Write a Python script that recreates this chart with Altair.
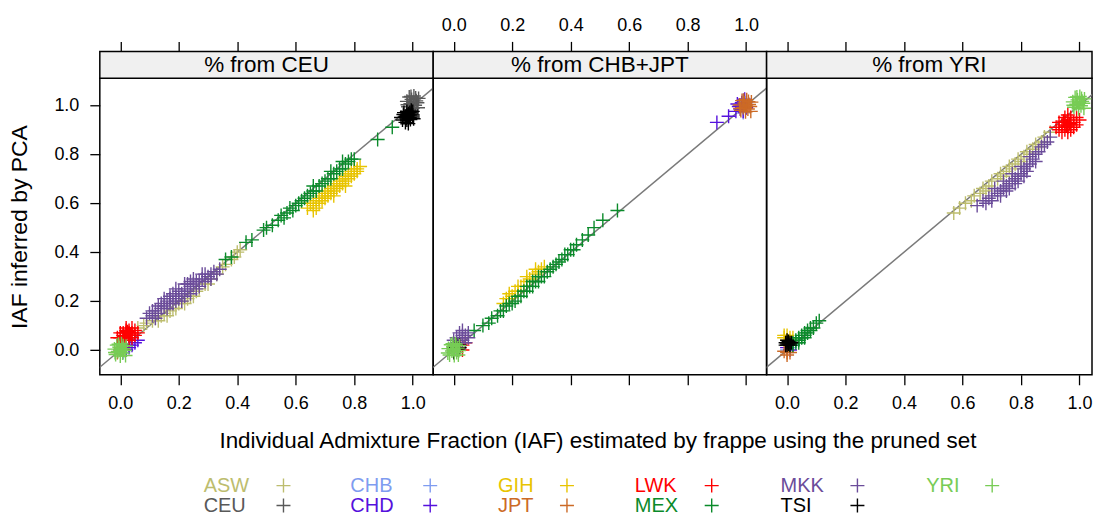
import altair as alt
import pandas as pd

FONT = "Liberation Sans"

GROUPS = ["ASW", "CEU", "CHB", "CHD", "GIH", "JPT", "LWK", "MEX", "MKK", "TSI", "YRI"]
COLORS = ["#BDBD6E", "#595959", "#7F9CF0", "#5511DD", "#E8C400", "#CC6A26",
          "#FF0000", "#0A8A2A", "#6B4C9A", "#000000", "#77CC55"]
PANEL_TITLES = ["% from CEU", "% from CHB+JPT", "% from YRI"]
TICKS = [0.0, 0.2, 0.4, 0.6, 0.8, 1.0]
X_TITLE = "Individual Admixture Fraction (IAF) estimated by frappe using the pruned set"
Y_TITLE = "IAF inferred by PCA"

# ---------------- panel 1: % from CEU ----------------
P1_ASW = [(0.06, 0.09), (0.08, 0.10), (0.09, 0.11), (0.11, 0.12), (0.12, 0.13), (0.13, 0.12),
          (0.14, 0.14), (0.15, 0.15), (0.17, 0.16), (0.18, 0.17), (0.19, 0.17), (0.20, 0.19),
          (0.21, 0.20), (0.22, 0.19), (0.23, 0.21), (0.24, 0.22), (0.26, 0.24), (0.27, 0.25),
          (0.29, 0.27), (0.31, 0.29), (0.33, 0.31), (0.35, 0.34), (0.36, 0.35), (0.38, 0.37),
          (0.39, 0.38), (0.40, 0.40), (0.41, 0.41), (0.16, 0.14), (0.25, 0.22), (0.30, 0.27)]
P1_CEU = [(0.980, 1.016), (0.984, 0.994), (0.988, 1.034), (0.992, 1.006), (0.996, 1.024),
          (1.000, 0.988), (1.004, 1.038), (1.008, 1.000), (1.012, 1.018), (1.016, 1.010),
          (1.020, 1.028), (0.982, 1.002), (1.002, 1.012), (1.018, 0.990), (0.994, 1.036),
          (1.010, 1.030)]
P1_CHB = [(0.00, 0.00), (0.01, 0.01), (0.02, 0.00), (0.01, -0.01)]
P1_CHD = [(0.02, 0.00), (0.03, 0.01), (0.04, 0.02), (0.05, 0.03), (0.06, 0.04), (0.03, 0.02)]
P1_GIH = [(0.64, 0.58), (0.65, 0.60), (0.66, 0.59), (0.67, 0.61), (0.68, 0.60), (0.68, 0.62),
          (0.69, 0.63), (0.70, 0.62), (0.70, 0.64), (0.71, 0.65), (0.72, 0.64), (0.72, 0.66),
          (0.73, 0.67), (0.74, 0.66), (0.74, 0.68), (0.75, 0.69), (0.76, 0.68), (0.76, 0.70),
          (0.77, 0.71), (0.78, 0.70), (0.78, 0.72), (0.79, 0.73), (0.80, 0.72), (0.80, 0.74),
          (0.81, 0.74), (0.82, 0.75), (0.66, 0.57), (0.69, 0.61), (0.73, 0.65), (0.77, 0.69),
          (0.71, 0.63), (0.75, 0.67), (0.79, 0.71), (0.67, 0.58), (0.81, 0.73), (0.77, 0.67),
          (0.73, 0.63)]
P1_JPT = [(0.00, 0.00), (0.01, 0.00), (0.00, 0.01), (-0.01, -0.01)]
P1_LWK = [(0.00, 0.05), (0.01, 0.06), (0.02, 0.07), (0.03, 0.06), (0.02, 0.05), (0.04, 0.07),
          (0.03, 0.08), (0.01, 0.04), (0.00, 0.07), (0.02, 0.08), (0.04, 0.05), (0.05, 0.06),
          (0.03, 0.04), (0.01, 0.07), (0.02, 0.09), (0.05, 0.08), (-0.01, 0.05), (0.03, 0.07),
          (0.04, 0.09), (0.06, 0.07), (0.015, 0.055), (0.035, 0.065), (0.025, 0.075)]
P1_MEX = [(0.36, 0.37), (0.38, 0.38), (0.43, 0.44), (0.45, 0.45), (0.49, 0.49), (0.50, 0.50),
          (0.52, 0.51), (0.54, 0.53), (0.55, 0.55), (0.56, 0.54), (0.57, 0.56), (0.58, 0.58),
          (0.59, 0.57), (0.60, 0.59), (0.61, 0.60), (0.62, 0.61), (0.63, 0.62), (0.64, 0.63),
          (0.65, 0.64), (0.66, 0.65), (0.67, 0.65), (0.68, 0.67), (0.69, 0.68), (0.70, 0.69),
          (0.71, 0.70), (0.72, 0.70), (0.73, 0.72), (0.74, 0.73), (0.75, 0.74), (0.76, 0.74),
          (0.77, 0.76), (0.78, 0.77), (0.79, 0.78), (0.80, 0.78), (0.88, 0.86), (0.93, 0.91),
          (0.66, 0.67), (0.72, 0.73), (0.76, 0.77)]
P1_MKK = [(0.09, 0.13), (0.10, 0.15), (0.11, 0.14), (0.12, 0.16), (0.13, 0.15), (0.14, 0.17),
          (0.14, 0.19), (0.15, 0.18), (0.16, 0.20), (0.16, 0.17), (0.17, 0.21), (0.18, 0.19),
          (0.18, 0.23), (0.19, 0.22), (0.20, 0.21), (0.20, 0.24), (0.21, 0.23), (0.22, 0.25),
          (0.22, 0.22), (0.23, 0.24), (0.24, 0.26), (0.24, 0.23), (0.25, 0.27), (0.26, 0.25),
          (0.27, 0.28), (0.27, 0.26), (0.28, 0.29), (0.29, 0.28), (0.30, 0.30), (0.31, 0.29),
          (0.31, 0.31), (0.32, 0.32), (0.33, 0.31), (0.34, 0.33), (0.12, 0.13), (0.17, 0.19),
          (0.21, 0.20), (0.19, 0.20), (0.23, 0.27), (0.26, 0.28), (0.15, 0.21), (0.13, 0.18),
          (0.19, 0.25), (0.25, 0.29), (0.29, 0.31), (0.11, 0.16), (0.22, 0.27), (0.28, 0.31),
          (0.17, 0.22), (0.24, 0.28)]
P1_TSI = [(0.970, 0.950), (0.980, 0.960), (0.990, 0.970), (0.980, 0.940), (0.970, 0.970),
          (0.990, 0.950), (1.000, 0.960), (0.980, 0.975), (0.975, 0.930), (0.995, 0.980),
          (1.000, 0.975), (0.960, 0.950), (0.985, 0.965), (0.975, 0.955), (0.995, 0.965),
          (0.985, 0.925), (0.965, 0.940), (1.003, 0.945), (0.990, 0.960), (0.978, 0.948),
          (0.968, 0.962), (0.992, 0.942), (1.000, 0.952), (0.983, 0.957), (0.996, 0.972)]
P1_YRI = [(-0.020, 0.004), (-0.016, -0.018), (-0.012, 0.020), (-0.008, -0.006), (-0.004, 0.012),
          (0.000, -0.024), (0.004, 0.026), (0.008, -0.012), (0.012, 0.006), (0.016, -0.002),
          (0.020, 0.016), (-0.018, -0.010), (0.002, 0.000), (0.018, -0.022), (-0.006, 0.024),
          (0.010, 0.018)]

# ---------------- panel 2: % from CHB+JPT ----------------
P2_ASW = [(0.00, 0.00), (0.01, 0.01), (0.00, 0.02)]
P2_CEU = [(0.00, 0.00), (0.01, 0.00)]
P2_CHB = [(0.99, 0.97), (1.00, 0.99), (0.98, 1.00), (1.00, 1.01), (0.99, 1.02)]
P2_CHD = [(0.90, 0.93), (0.94, 0.955), (0.965, 0.975), (0.975, 0.995), (0.985, 1.01),
          (0.98, 0.985), (0.99, 0.975), (0.97, 1.005), (1.00, 0.99), (0.995, 1.025)]
P2_GIH = [(0.17, 0.19), (0.18, 0.21), (0.19, 0.21), (0.20, 0.22), (0.21, 0.24), (0.22, 0.24),
          (0.23, 0.26), (0.24, 0.26), (0.25, 0.28), (0.26, 0.29), (0.27, 0.30), (0.28, 0.31),
          (0.29, 0.32), (0.30, 0.33), (0.31, 0.34), (0.19, 0.23), (0.22, 0.26), (0.25, 0.30),
          (0.28, 0.33)]
P2_JPT = [(0.978, 1.001), (0.982, 0.979), (0.986, 1.019), (0.990, 0.991), (0.994, 1.009),
          (0.998, 0.973), (1.002, 1.023), (1.006, 0.985), (1.010, 1.003), (1.014, 0.995),
          (1.018, 1.013), (0.980, 0.987), (1.000, 0.997), (1.016, 0.975), (0.992, 1.021),
          (1.008, 1.015)]
P2_LWK = [(0.02, 0.02), (0.03, 0.02), (0.04, 0.03), (0.02, 0.01), (0.03, 0.00)]
P2_MEX = [(0.07, 0.08), (0.10, 0.10), (0.12, 0.11), (0.13, 0.13), (0.15, 0.14), (0.16, 0.16),
          (0.17, 0.16), (0.18, 0.18), (0.19, 0.19), (0.20, 0.19), (0.21, 0.20), (0.22, 0.22),
          (0.23, 0.22), (0.24, 0.24), (0.25, 0.24), (0.26, 0.26), (0.27, 0.26), (0.28, 0.28),
          (0.29, 0.28), (0.30, 0.30), (0.31, 0.30), (0.32, 0.32), (0.33, 0.33), (0.34, 0.34),
          (0.35, 0.35), (0.36, 0.36), (0.37, 0.37), (0.38, 0.39), (0.39, 0.39), (0.40, 0.41),
          (0.41, 0.41), (0.42, 0.43), (0.44, 0.45), (0.46, 0.47), (0.48, 0.50), (0.51, 0.53),
          (0.56, 0.57), (0.25, 0.26), (0.29, 0.30), (0.27, 0.28)]
P2_MKK = [(0.01, 0.03), (0.02, 0.05), (0.03, 0.04), (0.02, 0.07), (0.04, 0.06), (0.03, 0.06),
          (0.05, 0.05), (0.01, 0.05), (0.04, 0.03), (0.00, 0.04), (0.03, 0.08), (0.05, 0.07)]
P2_TSI = [(0.01, 0.00), (0.00, 0.01), (0.02, 0.01), (0.01, 0.02), (0.00, -0.01), (0.015, 0.005),
          (0.02, 0.02)]
P2_YRI = [(-0.018, 0.006), (-0.014, -0.020), (-0.010, 0.022), (-0.006, -0.004), (-0.002, 0.014),
          (0.002, -0.022), (0.006, 0.026), (0.010, -0.010), (0.014, 0.008), (0.018, -0.002),
          (0.020, 0.018), (-0.020, -0.012), (0.000, 0.002), (0.016, -0.020), (-0.004, 0.026),
          (0.008, 0.020)]

# ---------------- panel 3: % from YRI ----------------
P3_ASW = [(0.57, 0.56), (0.59, 0.58), (0.61, 0.60), (0.63, 0.61), (0.64, 0.63), (0.66, 0.64),
          (0.67, 0.66), (0.68, 0.65), (0.69, 0.67), (0.70, 0.69), (0.72, 0.70), (0.73, 0.72),
          (0.74, 0.71), (0.75, 0.73), (0.76, 0.75), (0.77, 0.74), (0.78, 0.76), (0.79, 0.78),
          (0.80, 0.77), (0.81, 0.79), (0.82, 0.81), (0.83, 0.80), (0.84, 0.82), (0.85, 0.84),
          (0.86, 0.83), (0.87, 0.85), (0.88, 0.87), (0.90, 0.89)]
P3_CEU = [(0.00, 0.03), (0.01, 0.02), (0.00, 0.02)]
P3_CHB = [(0.00, 0.00), (0.01, 0.01)]
P3_CHD = [(0.00, 0.01), (0.01, 0.00), (0.02, 0.02)]
P3_GIH = [(0.00, 0.04), (0.01, 0.05), (0.00, 0.06), (0.02, 0.05), (-0.01, 0.05), (0.01, 0.03),
          (-0.01, 0.06)]
P3_JPT = [(0.00, -0.01), (0.00, -0.02), (0.01, -0.01), (-0.01, -0.005)]
P3_LWK = [(0.94, 0.92), (0.95, 0.93), (0.96, 0.91), (0.97, 0.92), (0.95, 0.90), (0.96, 0.94),
          (0.98, 0.93), (0.93, 0.90), (0.97, 0.95), (0.99, 0.92), (0.94, 0.89), (0.96, 0.89),
          (0.98, 0.91), (0.95, 0.95), (0.93, 0.93), (0.97, 0.90), (1.00, 0.94), (0.92, 0.91),
          (0.96, 0.96), (0.99, 0.95), (0.955, 0.915), (0.965, 0.925), (0.945, 0.935)]
P3_MEX = [(0.01, 0.02), (0.02, 0.02), (0.02, 0.03), (0.03, 0.03), (0.03, 0.04), (0.04, 0.04),
          (0.04, 0.05), (0.05, 0.05), (0.05, 0.06), (0.06, 0.06), (0.06, 0.07), (0.07, 0.07),
          (0.07, 0.08), (0.08, 0.08), (0.08, 0.09), (0.09, 0.09), (0.10, 0.11), (0.11, 0.12),
          (0.04, 0.03), (0.06, 0.05)]
P3_MKK = [(0.65, 0.59), (0.67, 0.61), (0.69, 0.62), (0.70, 0.63), (0.72, 0.64), (0.73, 0.65),
          (0.74, 0.66), (0.75, 0.67), (0.76, 0.68), (0.77, 0.69), (0.78, 0.70), (0.79, 0.71),
          (0.80, 0.72), (0.81, 0.74), (0.82, 0.75), (0.83, 0.76), (0.84, 0.78), (0.85, 0.80),
          (0.86, 0.81), (0.87, 0.83), (0.88, 0.84), (0.89, 0.85), (0.90, 0.87), (0.71, 0.66),
          (0.74, 0.69), (0.77, 0.72), (0.80, 0.75), (0.83, 0.79), (0.78, 0.68), (0.75, 0.65),
          (0.76, 0.66), (0.79, 0.69), (0.82, 0.73), (0.73, 0.63), (0.70, 0.61), (0.85, 0.77),
          (0.81, 0.71), (0.68, 0.60)]
P3_TSI = [(0.00, 0.02), (0.01, 0.03), (0.00, 0.04), (0.005, 0.025), (-0.005, 0.03), (0.01, 0.02),
          (0.00, 0.03), (0.005, 0.035), (0.015, 0.03), (-0.005, 0.02)]
P3_YRI = [(0.977, 1.014), (0.981, 0.992), (0.985, 1.032), (0.989, 1.004), (0.993, 1.022),
          (0.997, 0.986), (1.001, 1.036), (1.005, 0.998), (1.009, 1.016), (1.013, 1.008),
          (1.017, 1.026), (0.979, 1.000), (0.999, 1.010), (1.015, 0.988), (0.991, 1.034),
          (1.007, 1.028)]

PANEL_DATA = [
    [P1_ASW, P1_CEU, P1_CHB, P1_CHD, P1_GIH, P1_JPT, P1_LWK, P1_MEX, P1_MKK, P1_TSI, P1_YRI],
    [P2_ASW, P2_CEU, P2_CHB, P2_CHD, P2_GIH, P2_JPT, P2_LWK, P2_MEX, P2_MKK, P2_TSI, P2_YRI],
    [P3_ASW, P3_CEU, P3_CHB, P3_CHD, P3_GIH, P3_JPT, P3_LWK, P3_MEX, P3_MKK, P3_TSI, P3_YRI],
]

# ---------------- layout / style ----------------
CROSS = "M-1,0L1,0M0,-1L0,1"
SYM_SIZE = 196
SYM_W = 1.4
WIDTHS = [334, 334, 326]
HEIGHT = 297
STRIP_H = 27
X_DOMAINS = [[-0.07, 1.07], [-0.07, 1.07], [-0.07, 1.0427]]
Y_DOMAIN = [-0.101, 1.11]
LEG_TEXT_X = [104, 251, 399, 536, 682, 828]
LEG_SYM_X = [184, 331, 468, 613, 759, 894]
LEG_ROW_Y = [408, 428]
LEG_FONT = 20

DUMMY = pd.DataFrame({"d": [0]})
ABLINE = pd.DataFrame({"x": [-0.2, 1.2], "y": [-0.2, 1.2]})


def xaxis(orient, labels):
    return alt.Axis(orient=orient, values=TICKS, format=".1f", labels=labels,
                    tickSize=10, tickColor="black", tickWidth=1.3, domain=False,
                    grid=False, title=None, labelFont=FONT, labelFontSize=18,
                    labelColor="black", labelFlush=False, labelOverlap=False,
                    labelPadding=7 if orient == "top" else 10,
                    offset=STRIP_H if orient == "top" else 0)


def panel(i):
    rows = []
    for g, pts in zip(GROUPS, PANEL_DATA[i]):
        for (xv, yv) in pts:
            rows.append({"group": g, "x": xv, "y": yv})
    df = pd.DataFrame(rows)
    W = WIDTHS[i]
    xs = alt.Scale(domain=X_DOMAINS[i], nice=False, zero=False)
    ys = alt.Scale(domain=Y_DOMAIN, nice=False, zero=False)
    if i == 0:
        yax = alt.Axis(orient="left", values=TICKS, format=".1f", tickSize=10,
                       tickColor="black", tickWidth=1.3, domain=False, grid=False,
                       labelFont=FONT, labelFontSize=18, labelColor="black",
                       labelPadding=11, title=Y_TITLE, titleFont=FONT,
                       titleFontSize=23, titleFontWeight="normal", titleColor="black",
                       titlePadding=22)
    else:
        yax = None

    strip = alt.Chart(DUMMY).mark_rect(fill="#F0F0F0", stroke="black", strokeWidth=1.5).encode(
        x=alt.value(0), x2=alt.value(W), y=alt.value(-STRIP_H), y2=alt.value(0))
    strip_text = alt.Chart(DUMMY).mark_text(
        text=PANEL_TITLES[i], font=FONT, fontSize=22.5, color="black",
        align="center", baseline="middle").encode(
        x=alt.value(W / 2), y=alt.value(-STRIP_H / 2 + 0.5))

    abline = alt.Chart(ABLINE).mark_line(color="#7A7A7A", strokeWidth=1.5, clip=True).encode(
        x=alt.X("x:Q", scale=xs, axis=xaxis("top", i == 1)),
        y=alt.Y("y:Q", scale=ys, axis=yax))
    points = alt.Chart(df).mark_point(shape=CROSS, filled=False, size=SYM_SIZE, strokeWidth=SYM_W,
                                      opacity=1, clip=True).encode(
        x=alt.X("x:Q", scale=xs, axis=xaxis("bottom", i != 1)),
        y=alt.Y("y:Q", scale=ys, axis=yax),
        color=alt.Color("group:N", scale=alt.Scale(domain=GROUPS, range=COLORS), legend=None))

    layers = [strip, strip_text, abline, points]

    if i == 0:
        anchor = alt.Chart(DUMMY).mark_rect(opacity=0).encode(
            x=alt.value(-99), x2=alt.value(-98), y=alt.value(-77), y2=alt.value(-76))
        xtitle = alt.Chart(DUMMY).mark_text(
            text=X_TITLE, font=FONT, fontSize=22.5, color="black",
            align="center", baseline="middle").encode(x=alt.value(499), y=alt.value(363))
        layers += [anchor, xtitle]
        for k, (g, c) in enumerate(zip(GROUPS, COLORS)):
            col, row = k // 2, k % 2
            layers.append(alt.Chart(DUMMY).mark_text(
                text=g, font=FONT, fontSize=LEG_FONT, color=c, align="left",
                baseline="middle").encode(x=alt.value(LEG_TEXT_X[col]), y=alt.value(LEG_ROW_Y[row])))
            layers.append(alt.Chart(DUMMY).mark_point(
                shape=CROSS, filled=False, size=SYM_SIZE, strokeWidth=SYM_W, color=c, opacity=1).encode(
                x=alt.value(LEG_SYM_X[col]), y=alt.value(LEG_ROW_Y[row])))

    return alt.layer(*layers).resolve_axis(x="independent").properties(width=W, height=HEIGHT)


chart = alt.hconcat(panel(0), panel(1), panel(2), spacing=0, bounds="flush").properties(
    padding=0, background="white"
).configure_view(stroke="black", strokeWidth=1.5)

chart.save("out.html", embed_options={"renderer": "svg", "actions": False})
